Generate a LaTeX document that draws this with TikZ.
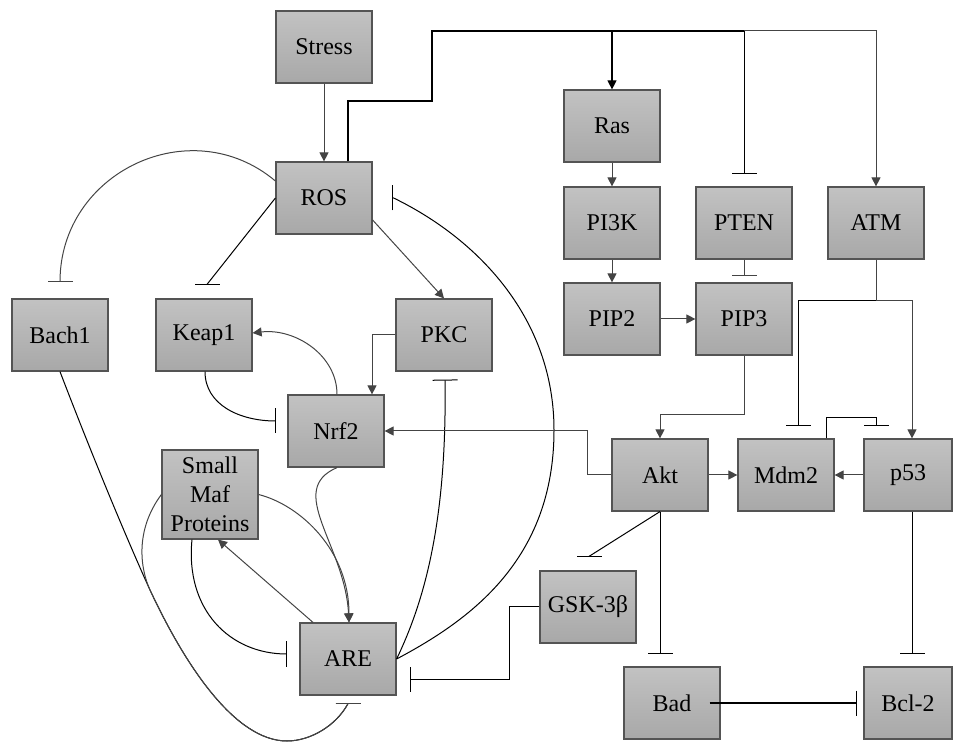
\documentclass[tikz,border=0pt]{standalone}
\usepackage{fontspec}
\setmainfont{Liberation Serif}
\usetikzlibrary{arrows.meta,shadows}
\definecolor{boxtop}{RGB}{194,194,194}
\definecolor{boxbot}{RGB}{168,168,168}
\definecolor{boxline}{RGB}{84,84,84}
\definecolor{lnk}{RGB}{68,68,68}
\begin{document}
\begin{tikzpicture}[x=0.5pt,y=-0.5pt,
    gene/.style={draw=boxline, line width=0.6pt, top color=boxtop, bottom color=boxbot,
      minimum width=48pt, minimum height=36pt, inner sep=1pt, align=center,
      font=\fontsize{12}{14.5}\selectfont,
      drop shadow={shadow xshift=0.7pt, shadow yshift=-0.7pt, opacity=0.2}},
    act/.style={draw=lnk, line width=0.5pt, -{Triangle[length=4.5pt,width=4.5pt]}},
    inh/.style={draw=lnk, line width=0.5pt, -{Bar[width=12.5pt]}}]
  \useasboundingbox (0,0) rectangle (953,742);
  % boxes
  \node[gene] (stress) at (324,47) {Stress};
  \node[gene] (ros) at (324,198) {ROS};
  \node[gene] (ras) at (612,126) {Ras};
  \node[gene] (pik) at (612,223) {PI3K};
  \node[gene] (pten) at (744,223) {PTEN};
  \node[gene] (atm) at (876,223) {ATM};
  \node[gene] (pip2) at (612,319) {PIP2};
  \node[gene] (pip3) at (744,319) {PIP3};
  \node[gene] (bach) at (60,335) {Bach1};
  \node[gene] (keap) at (204,335) {Keap1};
  \node[gene] (pkc) at (444,335) {PKC};
  \node[gene] (nrf) at (336,431) {Nrf2};
  \node[gene, minimum height=44.5pt] (maf) at (210,494.5) {Small\\Maf\\Proteins};
  \node[gene] (are) at (348,659) {ARE};
  \node[gene] (akt) at (660,475) {Akt};
  \node[gene] (mdm) at (786,475) {Mdm2};
  \node[gene, minimum width=44pt] (p53) at (908,475) {p53};
  \node[gene] (gsk) at (588,607) {GSK-3β};
  \node[gene] (bad) at (672,703) {Bad};
  \node[gene, minimum width=44pt] (bcl) at (908,703) {Bcl-2};
  % ROS to the Akt side
  \coordinate (tA) at (432,101);
  \coordinate (tB) at (744,31);
  \coordinate (atmJ) at ([yshift=-20.5pt]atm.south);
  \coordinate (loopJ) at (150,590);
  \draw[act] (stress) -- (ros);
  \draw[black, line width=1pt] ([xshift=12pt]ros.north) |- (tA) |- (tB);
  \draw[act, draw=black, line width=0.6pt] (ras.north |- tB) -- (ras.north);
  \draw[inh, draw=black] (tB) -- ([yshift=6pt]pten.north);
  \draw[act] (tB) -| (atm.north);
  \draw[act] (ras) -- (pik);
  \draw[act] (pik) -- (pip2);
  \draw[act] (pip2) -- (pip3);
  \draw[inh] (pten) -- ([yshift=3pt]pip3.north);
  % Nrf2 loop
  \draw[inh] ([yshift=8.5pt]ros.west) .. controls (191,110) and (60,172) .. ([yshift=8pt]bach.north);
  \draw[inh, draw=black] (ros.west) -- ([xshift=1.5pt,yshift=7pt]keap.north) -- ([xshift=1.5pt,yshift=6.5pt]keap.north);
  \draw[act] ([yshift=-11pt]ros.east) -- (pkc.north);
  \draw[inh, draw=black] (are.east) .. controls (470,620) and (554,560) .. (554,430)
    .. controls (554,320) and (480,240) .. ([xshift=10.5pt]ros.east) -- ([xshift=9.5pt]ros.east);
  \draw[inh, draw=black] (are.east) .. controls (425,600) and (447,520) .. ([xshift=0.5pt,yshift=-4pt]pkc.south);
  \draw[act] (pkc.west) -| ([xshift=18pt]nrf.north);
  \draw[act] ([xshift=0.5pt]nrf.north) .. controls (337,355) and (295,328) .. ([yshift=1pt]keap.east);
  \draw[inh, draw=black] ([xshift=0.5pt]keap.south) .. controls (205,405) and (240,421) .. ([xshift=-5.5pt,yshift=5pt]nrf.west);
  \draw[act] (akt.west) -- ++(-24,0) |- (nrf.east);
  \draw[act] ([xshift=0.5pt]nrf.south) .. controls (285,490) and (345,545) .. ([xshift=0.5pt]are.north);
  \draw[act] (maf.east) .. controls (300,505) and (349,550) .. ([xshift=0.5pt]are.north);
  \draw[act] ([xshift=-17.5pt]are.north) -- ([xshift=4pt]maf.south);
  \draw[inh, draw=black] ([xshift=-9pt]maf.south) .. controls (185,610) and (230,654) .. ([xshift=-6pt,yshift=2.5pt]are.west);
  \draw[inh, draw=black] (bach.south) .. controls (90,450) and (125,535) .. (loopJ)
    .. controls (185,665) and (235,741) .. (287,741) .. controls (310,741) and (336,726) .. ([yshift=-4pt]are.south)
    -- ([yshift=-3.5pt]are.south);
  \draw[inh] (maf.west) .. controls (135,530) and (140,568) .. (loopJ)
    .. controls (185,665) and (235,741) .. (287,741) .. controls (310,741) and (336,726) .. ([yshift=-4pt]are.south)
    -- ([yshift=-3.5pt]are.south);
  % Akt, Mdm2, p53
  \draw[act] (pip3.south) -- ++(0,59) -| (akt.north);
  \draw[inh, draw=black] (akt.south) -- ([xshift=0.5pt,yshift=7pt]gsk.north) -- ([xshift=0.5pt,yshift=6.5pt]gsk.north);
  \draw[inh, draw=black] (akt.south) -- ([yshift=6pt]akt.south |- bad.north);
  \draw[inh, draw=black] (gsk.west) -- ++(-30,0) |- ([xshift=6.5pt,yshift=-10pt]are.east);
  \draw[act] (akt) -- (mdm);
  \draw[act] (p53) -- (mdm);
  \draw[inh, draw=black] ([xshift=20pt]mdm.north) -- ++(0,-21) -| ([xshift=-16pt,yshift=6pt]p53.north);
  \draw[lnk, line width=0.5pt] (atm.south) -- (atmJ);
  \draw[inh, draw=black] (atmJ) -| ([xshift=6pt,yshift=6pt]mdm.north);
  \draw[act] (atmJ) -| ([xshift=2pt]p53.north);
  \draw[inh, draw=black] ([xshift=2pt]p53.south) -- ([xshift=2pt,yshift=6pt]bcl.north);
  \draw[inh, draw=black, line width=0.8pt] ([xshift=-5.5pt]bad.east) -- ([xshift=-3pt]bcl.west);
\end{tikzpicture}
\end{document}
